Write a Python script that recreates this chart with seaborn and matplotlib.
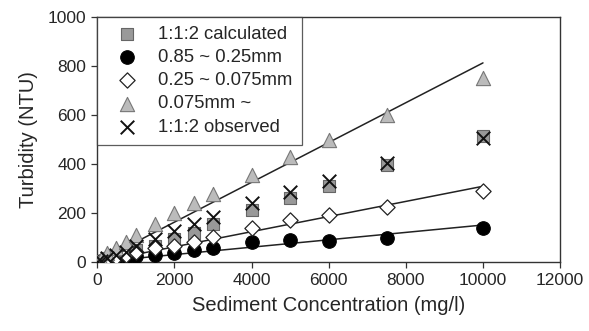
import numpy as np
import pandas as pd
import matplotlib
matplotlib.use("Agg")
import matplotlib.pyplot as plt
import seaborn as sns

# ---- data ----
conc = [0, 100, 250, 500, 750, 1000, 1500, 2000, 2500, 3000, 4000, 5000, 6000, 7500, 10000]
calc_112 = [0, 6, 15, 25, 35, 50, 65, 95, 120, 155, 212, 261, 308, 396, 515]
coarse = [0, 3, 8, 12, 18, 25, 30, 37, 49, 57, 82, 90, 85, 98, 139]
medium = [0, 5, 12, 20, 28, 40, 57, 65, 82, 100, 139, 170, 192, 226, 288]
fine = [0, 12, 35, 57, 82, 110, 155, 198, 240, 278, 355, 429, 498, 600, 752]
obs_112 = [0, 6, 15, 28, 40, 65, 95, 128, 155, 185, 241, 284, 330, 405, 505]

labels = ["1:1:2 calculated", "0.85 ~ 0.25mm", "0.25 ~ 0.075mm", "0.075mm ~", "1:1:2 observed"]
x_ticks = [0, 2000, 4000, 6000, 8000, 10000, 12000]
y_ticks = [0, 200, 400, 600, 800, 1000]

sns.set_style("white")
plt.rcParams["font.family"] = ["Liberation Sans", "DejaVu Sans"]

fig = plt.figure(figsize=(5.89, 3.31), dpi=100)
ax = fig.add_axes([0.165, 0.2085, 0.786, 0.7405])

x = np.array(conc, dtype=float)

# fit lines through the origin for the three size fractions
for series in [fine, medium, coarse]:
    y = np.array(series, dtype=float)
    slope = (x * y).sum() / (x * x).sum()
    xl = np.array([0.0, x.max()])
    sns.lineplot(x=xl, y=slope * xl, ax=ax, color="#222222", linewidth=1.1, zorder=1)

styles = [
    dict(marker="s", color="#999999", edgecolor="#666666", s=75, linewidth=0.8),
    dict(marker="o", color="#000000", edgecolor="#000000", s=95, linewidth=0.8),
    dict(marker="D", color="white", edgecolor="#222222", s=60, linewidth=0.9),
    dict(marker="^", color="#bbbbbb", edgecolor="#777777", s=105, linewidth=0.8),
    dict(marker="x", color="#111111", s=95, linewidth=1.4),
]
for vals, lab, st in zip([calc_112, coarse, medium, fine, obs_112], labels, styles):
    sns.scatterplot(x=conc, y=vals, ax=ax, label=lab, zorder=3, **st)

ax.set_xlim(0, 12000)
ax.set_ylim(0, 1000)
ax.set_xticks(x_ticks)
ax.set_yticks(y_ticks)
ax.tick_params(axis="both", direction="out", length=4, width=0.9, color="#333333",
               labelsize=12.5, bottom=True, left=True, pad=4)
for sp in ax.spines.values():
    sp.set_visible(True)
    sp.set_color("#333333")
    sp.set_linewidth(1.0)

ax.set_xlabel("Sediment Concentration (mg/l)", fontsize=14.5, labelpad=6)
ax.set_ylabel("Turbidity (NTU)", fontsize=14.5, labelpad=7)

leg = ax.legend(loc="upper left", borderaxespad=0, fontsize=13.3, frameon=True,
                fancybox=False, edgecolor="#333333", labelspacing=0.33,
                handletextpad=0.6, borderpad=0.5, handlelength=2.2)
leg.get_frame().set_linewidth(0.9)

fig.savefig("out.png", dpi=100)
